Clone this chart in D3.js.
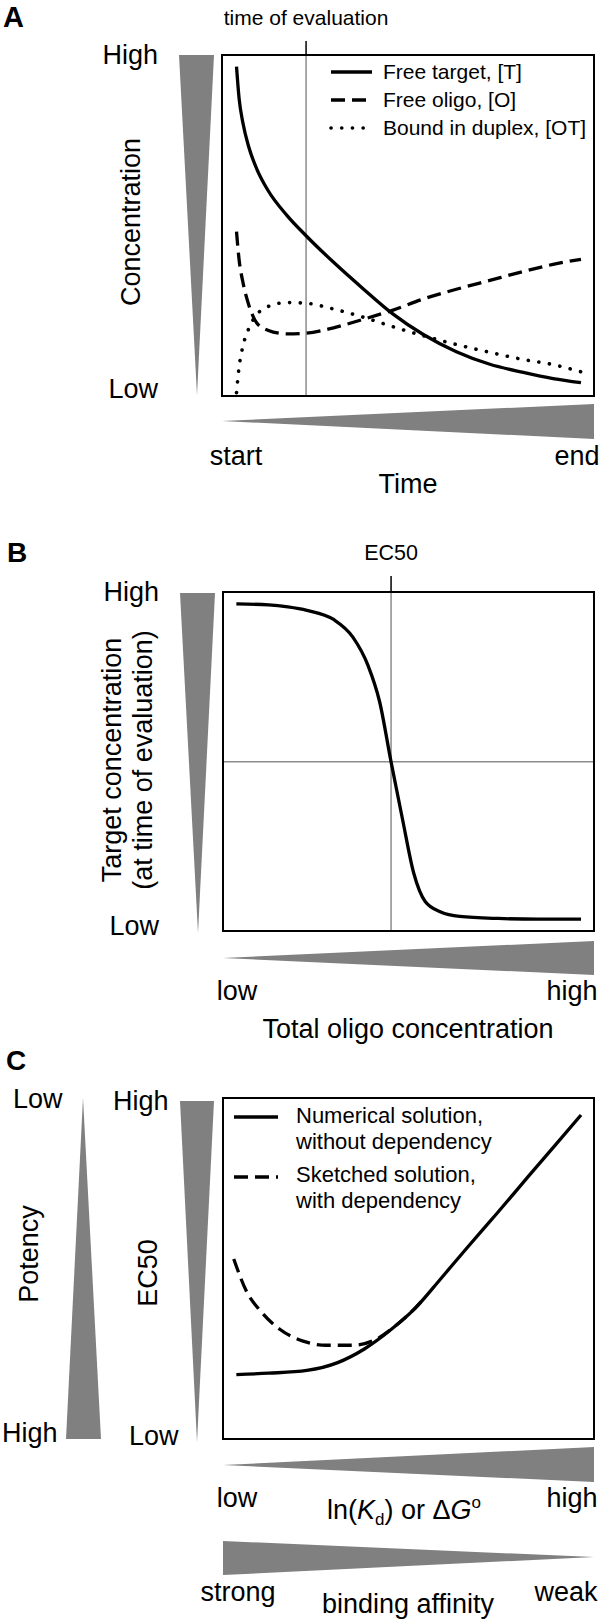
<!DOCTYPE html>
<html><head><meta charset="utf-8">
<script src="https://cdn.jsdelivr.net/npm/d3@7"></script>
<style>
body{margin:0;background:#fff}
svg{display:block}
text{font-family:"Liberation Sans",Arial,Helvetica,sans-serif;fill:#000}
</style>
</head><body>
<svg id="c" width="601" height="1623"></svg>
<script>
// ---------- Panel A data (time, relative concentration 0-100) ----------
const timeA        = [3.9, 4.6, 5.6, 7.2, 9.3, 12.3, 17.5, 22.6, 30, 38, 46, 54, 63, 72, 81, 89, 96.5];
const freeTarget   = [96.6, 87.2, 80.2, 73.0, 66.7, 60.4, 52.9, 47.0, 39.2, 31.4, 24.0, 18.1, 13.0, 9.3, 6.9, 5.1, 3.9];
const freeOligo    = [48.2, 39.9, 33.5, 26.7, 21.5, 19.3, 18.2, 18.4, 20.0, 22.5, 25.2, 28.4, 31.3, 33.9, 36.5, 38.6, 40.1];
const boundDuplex  = [1.0, 8.6, 14.5, 19.8, 23.8, 26.2, 27.4, 27.2, 25.5, 23.1, 20.3, 17.7, 15.1, 12.8, 10.7, 9.2, 7.1];
const legendA      = ["Free target, [T]", "Free oligo, [O]", "Bound in duplex, [OT]"];
const evalTime     = 22.6;

// ---------- Panel B data (total oligo, target conc.) ----------
const oligoB  = [3.6, 12.3, 17.5, 22.6, 29.8, 35.0, 39.1, 42.2, 45.3, 48.4, 51.4, 54.5, 58.7, 63.8, 74.1, 85, 96.5];
const targetB = [96.5, 96.2, 95.6, 94.6, 91.9, 86.7, 78.3, 67.7, 49.9, 32.9, 17.1, 8.7, 5.6, 4.3, 3.7, 3.5, 3.5];
const ec50B = 45.3;
const halfB = 49.9;

// ---------- Panel C data (ln Kd, EC50) ----------
const kdNumerical   = [3.6, 12.3, 22.6, 30.9, 38.1, 45.3, 51.5, 58.7, 65.8, 74.1, 82.3, 89.5, 96.5];
const ec50Numerical = [18.9, 19.3, 20.1, 22.4, 26.4, 32.1, 38.0, 47.0, 56.1, 66.5, 77.0, 86.1, 95.0];
const kdSketched    = [2.9, 6.2, 10.3, 15.4, 21.6, 27.8, 35.0, 41.2, 46.3, 50.4, 53.5];
const ec50Sketched  = [52.8, 43.6, 37.3, 32.1, 28.7, 27.5, 27.5, 29.2, 33.0, 36.9, 40.4];
const legendC = [["Numerical solution,", "without dependency"], ["Sketched solution,", "with dependency"]];

// ---------- drawing ----------
const svg = d3.select("#c");
const GRAY = "#808080";
const THIN = "#8c8c8c";
const BIG = 27;

function T(x, y, s, size, anchor, weight) {
  return svg.append("text").attr("x", x).attr("y", y).attr("font-size", size)
    .attr("text-anchor", anchor || "start").attr("font-weight", weight || "normal").text(s);
}
function R(x, y, s, size) {
  return svg.append("text").attr("transform", `translate(${x},${y}) rotate(-90)`)
    .attr("font-size", size).attr("text-anchor", "middle").text(s);
}
function frame(x, y) {
  svg.append("rect").attr("x", x.range()[0]).attr("y", y.range()[1])
    .attr("width", x.range()[1] - x.range()[0]).attr("height", y.range()[0] - y.range()[1])
    .attr("fill", "none").attr("stroke", "#000").attr("stroke-width", 2);
}
function poly(pts) {
  svg.append("polygon").attr("points", pts.map(p => p.join(",")).join(" ")).attr("fill", GRAY);
}
const styles = {
  solid: {w: 3.3, dash: null, cap: "butt"},
  dashed: {w: 3.3, dash: "14 7", cap: "butt"},
  dotted: {w: 3.6, dash: "0.1 10.6", cap: "round"}
};
function curve(x, y, xs, ys, st) {
  const line = d3.line().x(d => x(d[0])).y(d => y(d[1])).curve(d3.curveMonotoneX);
  const s = styles[st];
  svg.append("path").attr("d", line(xs.map((v, i) => [v, ys[i]])))
    .attr("fill", "none").attr("stroke", "#000").attr("stroke-width", s.w)
    .attr("stroke-dasharray", s.dash).attr("stroke-linecap", s.cap);
}
function seg(x1, y1, x2, y2, st) {
  const s = styles[st];
  svg.append("line").attr("x1", x1).attr("y1", y1).attr("x2", x2).attr("y2", y2)
    .attr("stroke", "#000").attr("stroke-width", s.w)
    .attr("stroke-dasharray", s.dash).attr("stroke-linecap", s.cap);
}

// ===== Panel A =====
const xA = d3.scaleLinear().domain([0, 100]).range([222, 594]);
const yA = d3.scaleLinear().domain([0, 100]).range([396, 55]);
T(3, 27, "A", 29, "start", "bold");
T(xA(evalTime), 25, "time of evaluation", 21, "middle");
svg.append("line").attr("x1", xA(evalTime)).attr("x2", xA(evalTime)).attr("y1", 41).attr("y2", 55)
  .attr("stroke", "#000").attr("stroke-width", 1.5);
svg.append("line").attr("x1", xA(evalTime)).attr("x2", xA(evalTime)).attr("y1", 55).attr("y2", 396)
  .attr("stroke", THIN).attr("stroke-width", 1.5);
curve(xA, yA, timeA, freeTarget, "solid");
curve(xA, yA, timeA, freeOligo, "dashed");
curve(xA, yA, timeA, boundDuplex, "dotted");
frame(xA, yA);
["solid", "dashed", "dotted"].forEach((st, i) => {
  seg(331, 72 + i * 28, 372, 72 + i * 28, st);
  T(383, 79 + i * 28, legendA[i], 21);
});
T(158, 64, "High", BIG, "end");
T(158, 398, "Low", BIG, "end");
R(140, 222, "Concentration", BIG);
poly([[179, yA.range()[1]], [214, yA.range()[1]], [197, 395]]);
poly([[xA.range()[0], 421], [xA.range()[1], 404], [xA.range()[1], 439]]);
T(236, 465, "start", BIG, "middle");
T(577, 465, "end", BIG, "middle");
T(408, 493, "Time", BIG, "middle");

// ===== Panel B =====
const xB = d3.scaleLinear().domain([0, 100]).range([223, 594]);
const yB = d3.scaleLinear().domain([0, 100]).range([931, 592]);
T(7, 562, "B", 28, "start", "bold");
T(xB(ec50B), 560, "EC50", 21.5, "middle");
svg.append("line").attr("x1", xB(ec50B)).attr("x2", xB(ec50B)).attr("y1", 576).attr("y2", 592)
  .attr("stroke", "#000").attr("stroke-width", 1.5);
svg.append("line").attr("x1", xB(ec50B)).attr("x2", xB(ec50B)).attr("y1", 592).attr("y2", 931)
  .attr("stroke", THIN).attr("stroke-width", 1.5);
svg.append("line").attr("x1", 223).attr("x2", 594).attr("y1", yB(halfB)).attr("y2", yB(halfB))
  .attr("stroke", THIN).attr("stroke-width", 1.5);
curve(xB, yB, oligoB, targetB, "solid");
frame(xB, yB);
T(159, 601, "High", BIG, "end");
T(159, 935, "Low", BIG, "end");
R(121, 760, "Target concentration", BIG);
R(152, 760, "(at time of evaluation)", BIG);
poly([[180, 593], [215, 593], [198, 933]]);
poly([[223, 958], [594, 941], [594, 975]]);
T(237, 1000, "low", BIG, "middle");
T(572, 1000, "high", BIG, "middle");
T(408, 1038, "Total oligo concentration", BIG, "middle");

// ===== Panel C =====
const xC = d3.scaleLinear().domain([0, 100]).range([223, 594]);
const yC = d3.scaleLinear().domain([0, 100]).range([1439, 1098]);
T(6, 1070, "C", 28, "start", "bold");
curve(xC, yC, kdSketched, ec50Sketched, "dashed");
curve(xC, yC, kdNumerical, ec50Numerical, "solid");
frame(xC, yC);
["solid", "dashed"].forEach((st, i) => {
  seg(234, 1117 + i * 60, 278, 1117 + i * 60, st);
  T(296, 1123 + i * 59, legendC[i][0], 22);
  T(296, 1149 + i * 59, legendC[i][1], 22);
});
T(13, 1108, "Low", BIG);
T(2, 1442, "High", BIG);
R(38, 1254, "Potency", BIG);
poly([[83, 1098], [101, 1439], [66, 1439]]);
T(113, 1110, "High", BIG);
T(129, 1445, "Low", BIG);
R(157, 1273, "EC50", BIG);
poly([[180, 1101], [214, 1101], [197, 1442]]);
poly([[223, 1465], [594, 1447], [594, 1482]]);
T(237, 1507, "low", BIG, "middle");
T(572, 1507, "high", BIG, "middle");
const lk = svg.append("text").attr("x", 404).attr("y", 1519).attr("font-size", BIG).attr("text-anchor", "middle");
lk.append("tspan").text("ln(");
lk.append("tspan").attr("font-style", "italic").text("K");
lk.append("tspan").attr("font-size", 17).attr("dy", 6).text("d");
lk.append("tspan").attr("dy", -6).text(") or \u0394");
lk.append("tspan").attr("font-style", "italic").text("G");
lk.append("tspan").attr("font-size", 17).attr("dy", -11).text("o");
poly([[223, 1541], [223, 1575], [594, 1557]]);
T(238, 1601, "strong", BIG, "middle");
T(566, 1601, "weak", BIG, "middle");
T(408, 1613, "binding affinity", BIG, "middle");
</script>
</body></html>
